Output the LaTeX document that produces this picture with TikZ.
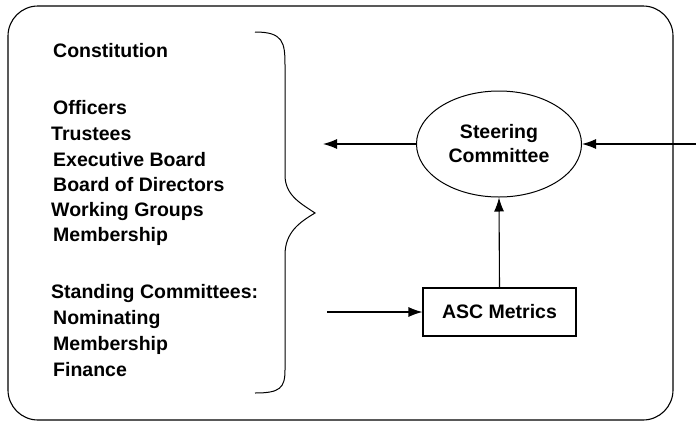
\documentclass[tikz,border=0pt]{standalone}
\usepackage{fontspec}
\setmainfont{Liberation Sans}
\usetikzlibrary{arrows.meta,shapes.geometric}
\begin{document}
\begin{tikzpicture}[x=1pt,y=-1pt,
  every node/.style={font=\fontsize{19.5}{21}\selectfont\bfseries},
  listitem/.style={anchor=base west,inner sep=0pt},
  conn/.style={line width=1.1pt,-{Latex[length=14pt,width=10pt]}},
  frame/.style={line width=1.1pt,rounded corners=30pt}]
\useasboundingbox (0,0) rectangle (696,421);
\draw[frame] (8,6) rectangle (673,420);
\node[listitem] (l1) at (53,57) {Constitution};
\node[listitem] (l2) at (53,114) {Officers};
\node[listitem] (l3) at (51,140) {Trustees};
\node[listitem] (l4) at (53,166) {Executive Board};
\node[listitem] (l5) at (53,191) {Board of Directors};
\node[listitem] (l6) at (51,216) {Working Groups};
\node[listitem] (l7) at (53,241) {Membership};
\node[listitem] (l8) at (51,298) {Standing Committees:};
\node[listitem] (l9) at (53,324) {Nominating};
\node[listitem] (l10) at (53,350) {Membership};
\node[listitem] (l11) at (53,376) {Finance};
\draw[line width=1pt] (255,32) .. controls (283,32) and (285,42) .. (285,65)
  -- (285,175) .. controls (285,195) and (300,203) .. (315,213)
  .. controls (300,222) and (285,232) .. (285,255)
  -- (285,370) .. controls (285,388) and (280,393) .. (255,393);
\node[ellipse,draw,line width=1pt,minimum width=165pt,minimum height=106pt,align=center,inner sep=0pt] (sc) at (499,144) {Steering\\[3pt]Committee};
\node[draw,line width=1.1pt,minimum width=153pt,minimum height=48pt,inner sep=0pt] (asc) at (499.5,312) {ASC Metrics};
\coordinate (lout) at (323,144);
\coordinate (rin) at (696,144);
\coordinate (bin) at (327,312);
\draw[conn] (sc.west) -- (lout);
\draw[conn] (rin) -- (sc.east);
\draw[conn] (bin) -- (asc.west);
\draw[conn] (asc.north) -- (sc.south);
\end{tikzpicture}
\end{document}
